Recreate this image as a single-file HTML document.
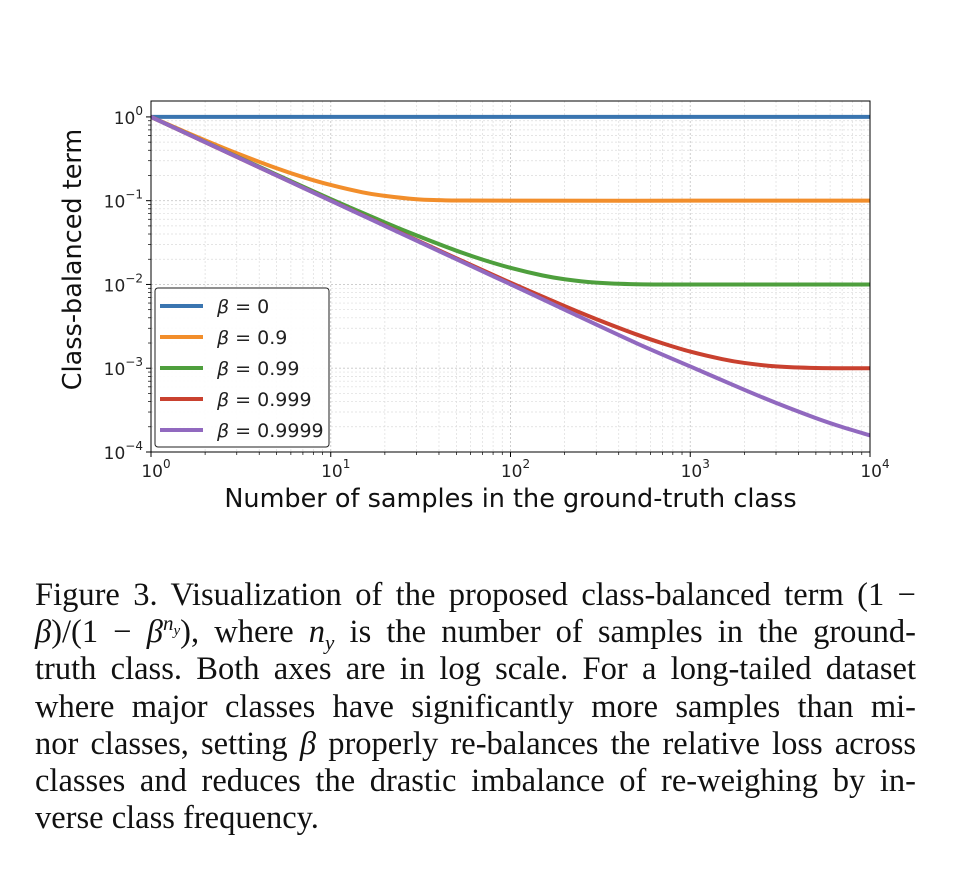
<!DOCTYPE html>
<html><head><meta charset="utf-8"><style>
body{margin:0;background:#fff;width:979px;height:884px;overflow:hidden;position:relative}
.cap{position:absolute;left:35px;width:881px;top:577px;font-family:"Liberation Serif",serif;font-size:32.5px;color:#111}
.cap div{height:37.2px;line-height:37.2px;text-align:justify;text-align-last:justify;white-space:nowrap}
.cap div.last{text-align-last:left}
.cap sup,.cap sub{line-height:0}
i{font-style:italic}
</style></head><body>
<svg id="chart" width="979" height="560" style="position:absolute;left:0;top:0" font-family="DejaVu Sans, sans-serif"></svg>
<div class="cap">
<div>Figure 3. Visualization of the proposed class-balanced term (1 −</div>
<div><i>β</i>)/(1 − <i>β</i><sup style="font-size:21px"><i>n<sub style="font-size:15px">y</sub></i></sup>), where <i>n<sub style="font-size:21px">y</sub></i> is the number of samples in the ground-</div>
<div>truth class. Both axes are in log scale. For a long-tailed dataset</div>
<div>where major classes have significantly more samples than mi-</div>
<div>nor classes, setting <i>β</i> properly re-balances the relative loss across</div>
<div>classes and reduces the drastic imbalance of re-weighing by in-</div>
<div class="last">verse class frequency.</div>
</div>
<script>
const seriesLabels=["β = 0","β = 0.9","β = 0.99","β = 0.999","β = 0.9999"];
const colors=["#3a75b0","#f28e2b","#4e9f3d","#c9412f","#9169bf"];
const xTickLabels=["0","1","2","3","4"];
const yTickLabels=["0","−1","−2","−3","−4"];
const n0=[1,10000];
const v0=[1,1];
const n1=[1,1.5,2,3,5,7,10,15,20,30,40,50,100,1000,10000];
const v1=[1,0.684,0.526,0.369,0.244,0.1916,0.154,0.126,0.114,0.104,0.1015,0.1005,0.1,0.1,0.1];
const n2=[1,2,5,10,20,30,50,70,100,150,200,300,500,1000,10000];
const v2=[1,0.503,0.204,0.1046,0.055,0.0385,0.0253,0.0198,0.0158,0.01284,0.01155,0.01052,0.01007,0.01,0.01];
const n3=[1,2,5,10,20,50,100,200,300,500,700,1000,1500,2000,3000,5000,10000];
const v3=[1,0.5,0.2,0.1005,0.0505,0.0205,0.0105,0.00552,0.00386,0.00254,0.001987,0.00158,0.001287,0.001156,0.001052,0.001007,0.001];
const n4=[1,10,20,50,100,200,500,1000,2000,3000,5000,7000,10000];
const v4=[1,0.1,0.05,0.02,0.01005,0.005,0.002,0.00105,0.000552,0.000386,0.000254,0.0001987,0.000158];
const seriesN=[n0,n1,n2,n3,n4], seriesV=[v0,v1,v2,v3,v4];
const L=151,R=870,T=101,B=452;
const X=n=>L+(R-L)*Math.log10(n)/4;
const yTop=0.19;
const Y=v=>T+(B-T)*(yTop-Math.log10(v))/(yTop+4);
const svg=document.getElementById('chart'),NS="http://www.w3.org/2000/svg";
function mk(t,a,p){const e=document.createElementNS(NS,t);for(const k in a)e.setAttribute(k,a[k]);(p||svg).appendChild(e);return e;}
const defs=mk('defs',{});const cp=mk('clipPath',{id:'clip'},defs);mk('rect',{x:L,y:T,width:R-L,height:B-T},cp);
const grid=mk('g',{});


for(let d=0;d<4;d++)for(let m=1;m<10;m++){const x=X(m*Math.pow(10,d));if(x>L+1)mk('line',{x1:x,x2:x,y1:T,y2:B,stroke:m==1?'#c8c8c8':'#dcdcdc','stroke-width':m==1?0.9:0.7,'stroke-dasharray':'2,2'},grid);}
for(let d=-4;d<=0;d++)for(let m=1;m<10;m++){const v=m*Math.pow(10,d);const y=Y(v);if(y>T&&y<B-1)mk('line',{x1:L,x2:R,y1:y,y2:y,stroke:m==1?'#c8c8c8':'#dcdcdc','stroke-width':m==1?0.9:0.7,'stroke-dasharray':'2,2'},grid);}
for(let s=0;s<5;s++){const ns=seriesN[s],vs=seriesV[s];
 const P=ns.map((n,i)=>[X(n),Y(vs[i])]);let d='M'+P[0][0]+','+P[0][1];
 for(let i=0;i<P.length-1;i++){const p0=P[Math.max(0,i-1)],p1=P[i],p2=P[i+1],p3=P[Math.min(P.length-1,i+2)];
  const c1=[p1[0]+(p2[0]-p0[0])/6,p1[1]+(p2[1]-p0[1])/6],c2=[p2[0]-(p3[0]-p1[0])/6,p2[1]-(p3[1]-p1[1])/6];
  d+='C'+c1+' '+c2+' '+p2;}
 const path=mk('path',{d:d,fill:'none',stroke:colors[s],'stroke-width':4,'clip-path':'url(#clip)'});
 
 }
const frame=mk('rect',{x:L,y:T,width:R-L,height:B-T,fill:'none',stroke:'#000','stroke-width':1});


for(let d=0;d<=4;d++){const x=X(Math.pow(10,d));mk('line',{x1:x,x2:x,y1:B,y2:B+5,stroke:'#000'});
 for(let m=2;m<10&&d<4;m++){const xm=X(m*Math.pow(10,d));mk('line',{x1:xm,x2:xm,y1:B,y2:B+3,stroke:'#000','stroke-width':0.7});}
 const t=mk('text',{x:x+5,y:B+25,'text-anchor':'middle','font-size':17,fill:'#222'});
 
 
 t.innerHTML='10<tspan dy="-9" font-size="12">'+xTickLabels[d]+'</tspan>';}
for(let d=0;d<=4;d++){const y=Y(Math.pow(10,-d));mk('line',{x1:L-5,x2:L,y1:y,y2:y,stroke:'#000'});
 for(let m=2;m<10&&d>0;m++){const ym=Y(m*Math.pow(10,-d));mk('line',{x1:L-3,x2:L,y1:ym,y2:ym,stroke:'#000','stroke-width':0.7});}
 const t=mk('text',{x:L-8,y:y+7,'text-anchor':'end','font-size':17,fill:'#222'});
 
 
 t.innerHTML='10<tspan dy="-9" font-size="12">'+yTickLabels[d]+'</tspan>';}
const xl=mk('text',{x:(L+R)/2,y:507,'text-anchor':'middle','font-size':25.5,fill:'#111'});


xl.textContent='Number of samples in the ground-truth class';
const yl=mk('text',{x:0,y:0,'text-anchor':'middle','font-size':25.5,fill:'#111',transform:'translate(81,'+((T+B)/2-17)+') rotate(-90)'});


yl.textContent='Class-balanced term';
const lg=mk('g',{});


mk('rect',{x:155,y:288,width:174,height:159,rx:3,fill:'#fff','fill-opacity':0.9,stroke:'#222','stroke-width':1},lg);
for(let s=0;s<5;s++){const y=306+s*31;
 mk('line',{x1:160,x2:203,y1:y,y2:y,stroke:colors[s],'stroke-width':4},lg);
 const t=mk('text',{x:217,y:y+7,'font-size':19,fill:'#222'},lg);
 
 
 t.innerHTML='<tspan font-style="italic">β</tspan>'+seriesLabels[s].slice(1);}
</script>
</body></html>
